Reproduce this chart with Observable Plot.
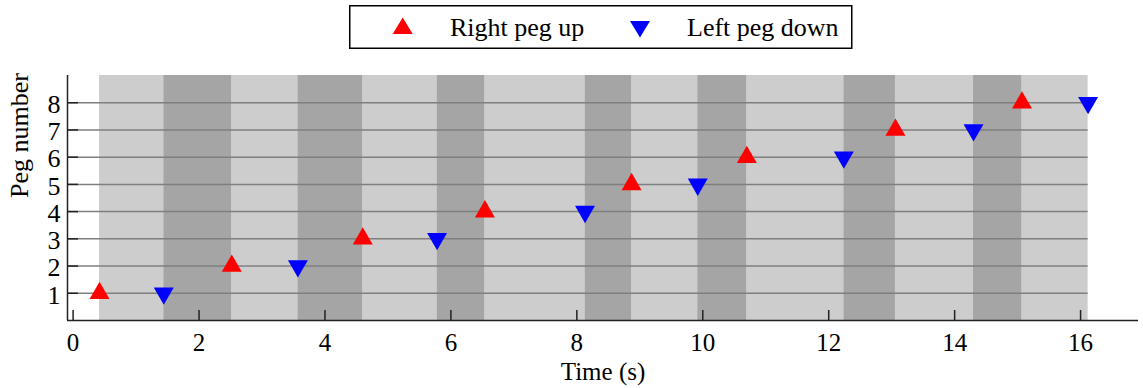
<!DOCTYPE html>
<html>
<head>
<meta charset="utf-8">
<script src="https://cdn.jsdelivr.net/npm/d3@7"></script>
<script src="https://cdn.jsdelivr.net/npm/@observablehq/plot@0.6"></script>
<style>
  html, body { margin: 0; padding: 0; background: #fff; }
  #wrap { position: relative; width: 1143px; height: 388px; }
  #legend { position: absolute; left: 0; top: 0; }
  #chart { position: absolute; left: 0; top: 0; }
</style>
</head>
<body>
<div id="wrap">
  <div id="chart"></div>
  <svg id="legend" width="1143" height="55" font-family="Liberation Serif" font-size="26">
    <rect x="349.75" y="5.75" width="502" height="42.5" fill="#fff" stroke="#000" stroke-width="1.5"></rect>
    <polygon points="392.7,34 402.7,17.5 412.7,34" fill="#ff0000"></polygon>
    <text x="450" y="36" fill="#000">Right peg up</text>
    <polygon points="630,21 650,21 640,37.5" fill="#0000ff"></polygon>
    <text x="687" y="36" fill="#000">Left peg down</text>
  </svg>
</div>
<script>
// ---- data ----
const pegs = [1, 2, 3, 4, 5, 6, 7, 8];
const rightUpTimes = [0.42, 2.52, 4.60, 6.54, 8.87, 10.70, 13.06, 15.07];
const leftDownTimes = [1.44, 3.57, 5.78, 8.13, 9.92, 12.24, 14.30, 16.12];
const xTicks = [0, 2, 4, 6, 8, 10, 12, 14, 16];
const yTicks = [1, 2, 3, 4, 5, 6, 7, 8];
const xLabel = "Time (s)";
const yLabel = "Peg number";

// ---- derived tables ----
const xmin = -0.089, xmax = 16.92;
const rightUp = pegs.map((p, i) => ({peg: p, time: rightUpTimes[i]}));
const leftDown = pegs.map((p, i) => ({peg: p, time: leftDownTimes[i]}));
const lightBands = pegs.map((p, i) => ({x1: rightUpTimes[i], x2: leftDownTimes[i]}));
const darkBands = pegs.slice(0, -1).map((p, i) => ({x1: leftDownTimes[i], x2: rightUpTimes[i + 1]}));

const downTriangle = {
  draw(context, size) {
    const y = Math.sqrt(size / (Math.sqrt(3) * 3));
    const x = Math.sqrt(3) * y;
    context.moveTo(0, 2 * y);
    context.lineTo(-x, -y);
    context.lineTo(x, -y);
    context.closePath();
  }
};
const R = 7.42;

const chart = Plot.plot({
  width: 1143,
  height: 388,
  marginLeft: 67,
  marginRight: 5,
  marginTop: 75,
  marginBottom: 68,
  style: {fontFamily: "Liberation Serif", fontSize: "26px", background: "transparent", overflow: "visible"},
  x: {domain: [xmin, xmax], label: null},
  y: {domain: [0, 9], label: null},
  marks: [
    Plot.rectX(lightBands, {x1: "x1", x2: "x2", y1: 0, y2: 9, fill: "#cdcdcd"}),
    Plot.rectX(darkBands, {x1: "x1", x2: "x2", y1: 0, y2: 9, fill: "#a5a5a5"}),
    Plot.ruleY(yTicks, {y: d => d, x1: xmin, x2: leftDownTimes[leftDownTimes.length - 1], stroke: "#7f7f7f", strokeWidth: 1.5}),
    Plot.ruleY(yTicks, {y: d => d, x1: xmin, x2: xmin, insetRight: -11, stroke: "#222", strokeWidth: 1.5}),
    Plot.ruleX(xTicks, {x: d => d, y1: 0, y2: 0, insetBottom: 10, stroke: "#222", strokeWidth: 1.5}),
    Plot.ruleX([xmin], {y1: 0, y2: 9, stroke: "#222", strokeWidth: 1.5}),
    Plot.ruleY([0], {x1: xmin, x2: xmax, stroke: "#222", strokeWidth: 1.5}),
    Plot.axisX({ticks: xTicks, tickSize: 0, tickPadding: 13, label: null, fontSize: 25, fill: "#000"}),
    Plot.axisY({ticks: yTicks, tickSize: 0, tickPadding: 7, label: null, fontSize: 26, dy: 2, fill: "#000"}),
    Plot.text([xLabel], {frameAnchor: "bottom", lineAnchor: "bottom", dy: 59, fontSize: 25, fill: "#000"}),
    Plot.text([yLabel], {frameAnchor: "left", rotate: -90, lineAnchor: "bottom", dx: -40, fontSize: 26, fill: "#000"}),
    Plot.dot(rightUp, {x: "time", y: "peg", symbol: "triangle", r: R, fill: "#ff0000"}),
    Plot.dot(leftDown, {x: "time", y: "peg", symbol: downTriangle, r: R, fill: "#0000ff"})
  ]
});
document.getElementById("chart").appendChild(chart);
</script>
</body>
</html>
